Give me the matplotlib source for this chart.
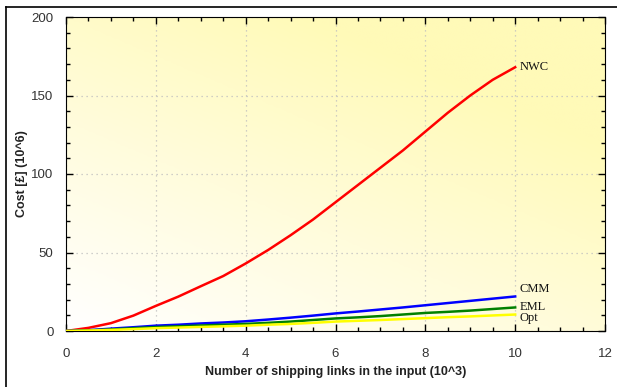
import numpy as np
import matplotlib.pyplot as plt
from matplotlib.lines import Line2D
from matplotlib.ticker import MultipleLocator
from matplotlib.colors import LinearSegmentedColormap

# x values in thousands of shipping links
links = [0.0, 0.5, 1.0, 1.5, 2.0, 2.5, 3.0, 3.5, 4.0, 4.5, 5.0,
         5.5, 6.0, 6.5, 7.0, 7.5, 8.0, 8.5, 9.0, 9.5, 10.0]

# cost in millions
nwc = [0.0, 2.0, 5.0, 9.8, 16.0, 21.9, 28.5, 35.0, 43.0, 51.6, 61.0,
       71.0, 82.0, 93.0, 104.0, 115.0, 127.0, 139.0, 150.0, 160.0, 168.0]
cmm = [0.0, 0.5, 1.5, 2.4, 3.4, 4.0, 4.8, 5.4, 6.2, 7.3, 8.5,
       9.8, 11.2, 12.4, 13.7, 15.0, 16.4, 17.8, 19.2, 20.6, 22.0]
eml = [0.0, 0.4, 1.0, 1.8, 2.5, 3.0, 3.5, 4.0, 4.5, 5.2, 6.0,
       7.0, 8.0, 8.7, 9.5, 10.5, 11.5, 12.2, 13.0, 14.0, 15.0]
opt = [0.0, 0.3, 0.7, 1.2, 1.8, 2.2, 2.6, 3.0, 3.4, 4.0, 4.5,
       5.2, 6.0, 6.5, 7.0, 7.6, 8.2, 8.8, 9.3, 9.9, 10.5]

names = ["NWC", "CMM", "EML", "Opt"]
colors = ["#ff0000", "#0000ff", "#008000", "#ffff00"]
label_y = [168, 27, 15.5, 8.5]

sans = ["Liberation Sans Narrow", "Liberation Sans"]

fig = plt.figure(figsize=(6.17, 3.87), dpi=100)
ax = fig.add_axes([66/617, 1 - 331/387, (605 - 66)/617, (331 - 17)/387])

# pale yellow gradient background, white in the bottom left corner
gx, gy = np.meshgrid(np.linspace(0, 1, 200), np.linspace(0, 1, 200))
grad = np.clip(0.55*gx + 0.75*gy, 0, 1)
cmap = LinearSegmentedColormap.from_list("bg", ["#ffffff", "#fffcdc", "#fffab8"])
ax.imshow(grad, extent=[0, 12, 0, 200], origin="lower", aspect="auto",
          cmap=cmap, zorder=0)

for ys, c in zip([nwc, cmm, eml, opt], colors):
    ax.plot(links, ys, color=c, lw=1.8, zorder=3)

for n, y in zip(names, label_y):
    ax.text(10.1, y, n, fontsize=9, family="Liberation Serif",
            va="center", ha="left", color="#111111")

ax.set_xlim(0, 12)
ax.set_ylim(0, 200)
ax.xaxis.set_major_locator(MultipleLocator(2))
ax.xaxis.set_minor_locator(MultipleLocator(0.5))
ax.yaxis.set_major_locator(MultipleLocator(50))
ax.yaxis.set_minor_locator(MultipleLocator(10))
ax.tick_params(which="both", direction="in", top=True, right=True,
               colors="black", labelcolor="#333333", labelsize=9.5)
ax.tick_params(which="major", length=5, width=1)
ax.tick_params(which="minor", length=3, width=1)
ax.tick_params(axis="x", which="major", pad=12)
ax.tick_params(axis="y", which="major", pad=9)
for lab in ax.get_xticklabels() + ax.get_yticklabels():
    lab.set_family(sans)
ax.grid(True, which="major", color="#c0c0c0", linestyle=(0, (1, 3)), lw=0.9)

ax.set_xlabel("Number of shipping links in the input (10^3)", fontsize=9,
              fontweight="bold", family=sans, color="#222222")
ax.set_ylabel("Cost [£] (10^6)", fontsize=9, fontweight="bold",
              family=sans, color="#222222")
ax.xaxis.set_label_coords(0.5, -0.112)
ax.yaxis.set_label_coords(-0.071, 0.5)

# outer frame lines (top and left)
fig.add_artist(Line2D([6/617, 1], [1 - 7/387, 1 - 7/387], color="black", lw=1.2))
fig.add_artist(Line2D([6/617, 6/617], [0, 1 - 7/387], color="black", lw=1.2))

fig.savefig("out.png", dpi=100)
